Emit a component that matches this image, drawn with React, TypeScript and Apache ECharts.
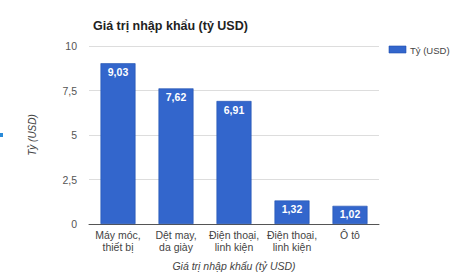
import React, { useEffect, useRef } from "react";
import * as echarts from "echarts";

const categories = ["Máy móc,\nthiết bị", "Dệt may,\nda giày", "Điện thoại,\nlinh kiện", "Điện thoại,\nlinh kiện", "Ô tô"];
const values = [9.03, 7.62, 6.91, 1.32, 1.02];
const seriesName = "Tỷ (USD)";

const fmt = (v: number, d: number) => v.toFixed(d).replace(".", ",");

export default function App() {
  const ref = useRef<HTMLDivElement>(null);
  useEffect(() => {
    const chart = echarts.init(ref.current!, null, { renderer: "svg" });
    chart.setOption({
      animation: false,
      backgroundColor: "#ffffff",
      textStyle: { fontFamily: "Arial, 'Liberation Sans', sans-serif" },
      title: {
        text: "Giá trị nhập khẩu (tỷ USD)",
        left: 88,
        top: 14,
        textStyle: { fontSize: 12.5, fontWeight: "bold", color: "#222" },
      },
      grid: { left: 89, right: 71, top: 46, bottom: 49, containLabel: false, outerBoundsMode: "none" },
      xAxis: {
        type: "category",
        data: categories,
        name: "Giá trị nhập khẩu (tỷ USD)",
        nameLocation: "middle",
        nameGap: 36,
        nameTextStyle: { fontStyle: "italic", fontSize: 10.5, color: "#444" },
        axisLine: { lineStyle: { color: "#555" } },
        axisTick: { show: false },
        axisLabel: { fontSize: 10.5, color: "#444", interval: 0, lineHeight: 12, margin: 5 },
      },
      yAxis: {
        type: "value",
        min: 0,
        max: 10,
        interval: 2.5,
        name: "Tỷ (USD)",
        nameLocation: "middle",
        nameGap: 52,
        nameTextStyle: { fontStyle: "italic", fontSize: 10, color: "#444" },
        axisLine: { show: false },
        axisTick: { show: false },
        splitLine: { lineStyle: { color: "#dddddd" } },
        axisLabel: { fontSize: 10.5, color: "#555", margin: 12, formatter: (v: number) => (Number.isInteger(v) ? String(v) : fmt(v, 1)) },
      },
      series: [
        {
          name: seriesName,
          type: "bar",
          data: values,
          barWidth: 35,
          itemStyle: { color: "#3366cc", borderColor: "#1f4fb0", borderWidth: 0.6 },
          label: {
            show: true,
            position: "insideTop",
            distance: 3,
            color: "#ffffff",
            fontWeight: "bold",
            fontSize: 10.5,
            formatter: (p: any) => fmt(p.value, 2),
          },
        },
      ],
      graphic: [
        { type: "rect", left: 0, top: 133, shape: { width: 3, height: 4 }, style: { fill: "#2a8ad8" } },
        { type: "rect", x: 389, y: 46, shape: { width: 17, height: 7 }, style: { fill: "#3366cc", stroke: "#1f4fb0", lineWidth: 0.6 } },
        {
          type: "text",
          x: 410,
          y: 50,
          style: { text: seriesName, fill: "#444", fontSize: 9.5, fontFamily: "Arial, 'Liberation Sans', sans-serif", verticalAlign: "middle", align: "left" },
        },
      ],
    });
    return () => chart.dispose();
  }, []);
  return <div ref={ref} style={{ width: 450, height: 273, position: "absolute", left: 0, top: 0 }} />;
}
